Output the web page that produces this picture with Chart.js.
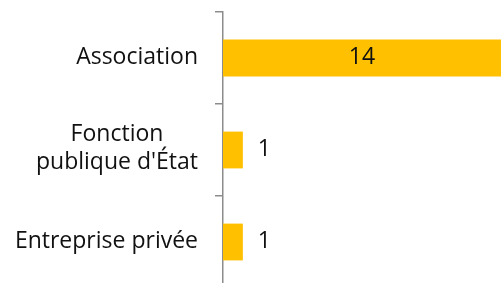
<!DOCTYPE html>
<html>
<head>
<meta charset="utf-8">
<script src="https://cdn.jsdelivr.net/npm/chart.js@4/dist/chart.umd.min.js"></script>
<style>
html,body{margin:0;padding:0;background:#fff;overflow:hidden;}
#wrap{position:relative;width:501px;height:290px;}
</style>
</head>
<body>
<div id="wrap"><canvas id="c"></canvas></div>
<script>
const categories = [["Association"], ["Fonction", "publique d'État"], ["Entreprise privée"]];
const values = [14, 1, 1];
const xMax = 14;

const FONT_FAMILY = "'Open Sans', Lato, sans-serif";
const FONT_SIZE = 23;
const TEXT_COLOR = '#111';

const labelPlugin = {
  id: 'labels',
  afterDraw(chart) {
    const ctx = chart.ctx;
    const y = chart.scales.y;
    const meta = chart.getDatasetMeta(0);
    ctx.save();
    ctx.font = FONT_SIZE + 'px ' + FONT_FAMILY;
    ctx.fillStyle = TEXT_COLOR;
    ctx.textBaseline = 'middle';
    const rightEdge = y.right - 25;
    const lineH = 28;
    categories.forEach((lines, i) => {
      const cy = y.getPixelForTick(i) - 1;
      const maxW = Math.max(...lines.map(l => ctx.measureText(l).width));
      ctx.textAlign = 'center';
      const cx = rightEdge - maxW / 2;
      const top = cy - (lines.length - 1) * lineH / 2 - (lines.length - 1);
      lines.forEach((l, k) => ctx.fillText(l, cx, top + k * lineH));
    });
    meta.data.forEach((bar, i) => {
      const v = values[i];
      const txt = String(v);
      if (v >= 5) {
        ctx.textAlign = 'center';
        const left = bar.base;
        const right = Math.min(bar.x, chart.chartArea.right);
        ctx.fillText(txt, (left + right) / 2, bar.y - 1);
      } else {
        ctx.textAlign = 'left';
        ctx.fillText(txt, bar.x + 15, bar.y - 1);
      }
    });
    ctx.restore();
  }
};

new Chart(document.getElementById('c'), {
  type: 'bar',
  data: {
    labels: categories.map(c => c.join(' ')),
    datasets: [{
      data: values,
      backgroundColor: '#FFC000',
      borderWidth: 0,
      barPercentage: 0.4,
      categoryPercentage: 1.0
    }]
  },
  options: {
    indexAxis: 'y',
    responsive: true,
    maintainAspectRatio: false,
    animation: false,
    events: [],
    layout: { padding: { top: 12, right: 0, bottom: 2, left: 0 } },
    plugins: { legend: { display: false }, tooltip: { enabled: false } },
    scales: {
      x: { display: false, min: 0, max: xMax },
      y: {
        offset: true,
        grid: { display: true, offset: true, drawOnChartArea: false, drawTicks: true, tickLength: 8, color: '#8c8c8c', lineWidth: 1.5 },
        border: { display: true, color: '#8c8c8c', width: 1.5 },
        ticks: { display: false },
        afterFit(scale) { scale.width = 223; }
      }
    }
  },
  plugins: [labelPlugin]
});
</script>
</body>
</html>
